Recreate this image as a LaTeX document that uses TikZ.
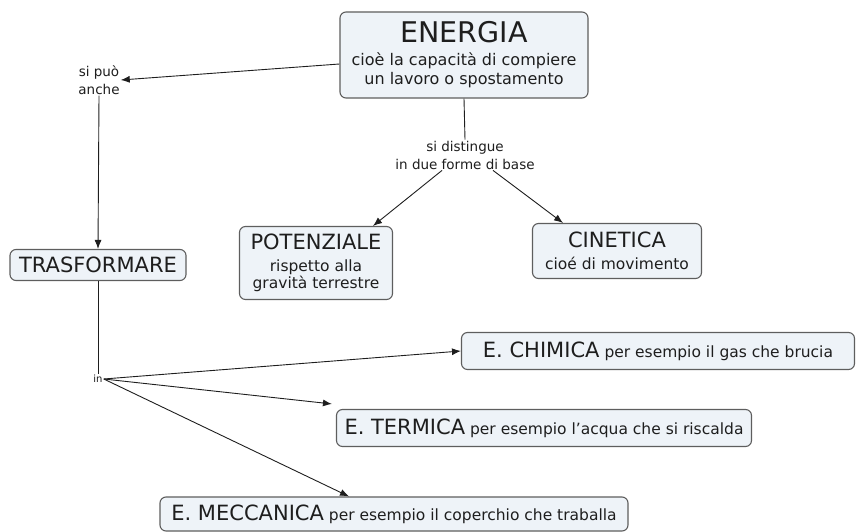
\documentclass[tikz,border=0pt]{standalone}
\usepackage{fontspec}
\setmainfont{DejaVu Sans}
\usetikzlibrary{arrows.meta}
\definecolor{fondocaja}{HTML}{EEF3F8}
\definecolor{bordecaja}{HTML}{5E5E5E}
\definecolor{tinta}{HTML}{1E1E1E}
\newcommand{\grande}[1]{{\fontsize{21}{23}\selectfont #1}}

\begin{document}
\begin{tikzpicture}[x=1pt, y=-1pt,
    caja/.style={draw=bordecaja, fill=fondocaja, line width=1.1pt, rounded corners=6pt,
        align=center, inner sep=1pt, text=tinta, font=\fontsize{15.5}{17}\selectfont},
    enlace/.style={font=\fontsize{13.5}{18}\selectfont, align=center, inner sep=1pt, text=tinta},
    flecha/.style={draw=tinta, line width=0.9pt, -{Latex[length=9pt,width=7pt]}},
    linea/.style={draw=tinta, line width=0.9pt}]
    % Dibuja el marco
    \useasboundingbox (0,0) rectangle (857,532);

    % Dibuja los conceptos
    \node[caja, minimum width=248pt, minimum height=86pt, font=\fontsize{16}{19}\selectfont] (energia) at (464,55)
        {{\fontsize{28.5}{30}\selectfont ENERGIA}\\[4pt]
         cioè la capacità di compiere\\ un lavoro o spostamento};
    \node[caja, minimum width=176pt, minimum height=31pt] (trasformare) at (98,265)
        {\grande{TRASFORMARE}};
    \node[caja, minimum width=153pt, minimum height=73pt] (potenziale) at (316,263)
        {\grande{POTENZIALE}\\[5pt] rispetto alla\\ gravità terrestre};
    \node[caja, minimum width=169pt, minimum height=55pt] (cinetica) at (617,251)
        {\grande{CINETICA}\\[5pt] cioé di movimento};
    \node[caja, minimum width=393pt, minimum height=37pt] (chimica) at (658,351)
        {\grande{E. CHIMICA} per esempio il gas che brucia};
    \node[caja, minimum width=415pt, minimum height=37pt] (termica) at (544,428)
        {\grande{E. TERMICA} per esempio l'acqua che si riscalda};
    \node[caja, minimum width=468pt, minimum height=34pt] (meccanica) at (394,514)
        {\grande{E. MECCANICA} per esempio il coperchio che traballa};

    % Dibuja las frases de enlace
    \node[enlace] (sipuo) at (99,80) {si può\\anche};
    \node[enlace] (distingue) at (465,155) {si distingue\\in due forme di base};
    \node[enlace, font=\fontsize{10}{12}\selectfont] (in) at (98,379) {in};

    % Dibuja los conectores
    \draw[flecha] ([yshift=-9pt]energia.west) -- (sipuo.east);
    \draw[flecha] (sipuo.south) -- (trasformare.north);
    \draw[linea] (energia.south) -- (distingue.north);
    \draw[flecha] ([xshift=-23pt]distingue.south) -- ([xshift=57pt]potenziale.north);
    \draw[flecha] ([xshift=28pt]distingue.south) -- ([xshift=-54pt]cinetica.north);
    \draw[linea] (trasformare.south) -- (in.north);
    \draw[flecha] (in.east) -- (chimica.west);
    \draw[flecha] (in.east) -- ([shift={(-4pt,5pt)}]termica.north west);
    \draw[flecha] (in.east) -- ([xshift=-45pt]meccanica.north);
\end{tikzpicture}
\end{document}
